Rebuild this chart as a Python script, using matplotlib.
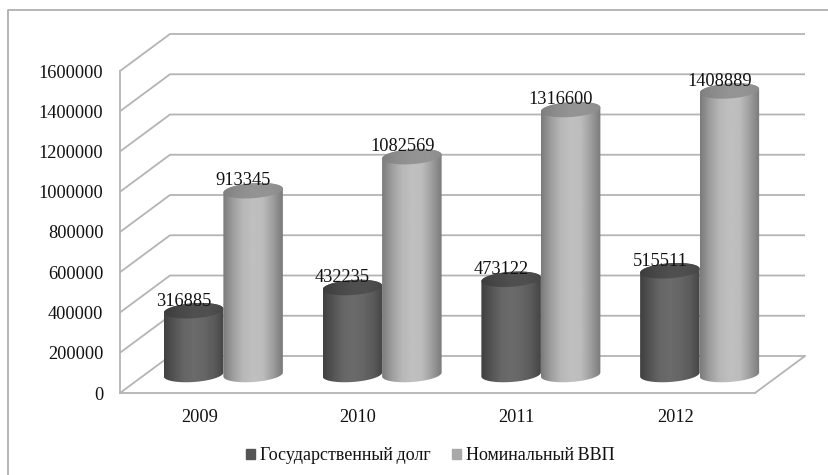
"""
Government debt vs nominal GDP, drawn as a 3D-look cylinder chart.
"""
import numpy as np
from matplotlib import pyplot as plt
from matplotlib.patches import Patch, PathPatch
from matplotlib.path import Path

years = ['2009', '2010', '2011', '2012']
debt = [316885, 432235, 473122, 515511]
gdp = [913345, 1082569, 1316600, 1408889]
y_ticks = list(range(0, 1600001, 200000))
series_names = ['Государственный\u2009долг', 'Номинальный\u2009ВВП']

plt.rcParams['font.family'] = ['Liberation Serif', 'DejaVu Serif']

GRID_COLOR = '#b4b4b4'
TEXT_COLOR = '#111111'
FIG_W, FIG_H = 829, 475
AX_LEFT, AX_RIGHT, AX_BOTTOM, AX_TOP = 120, 755, 393, 71

# sizes in pixels turned into data units
PX_X = 4 / (AX_RIGHT - AX_LEFT)
PX_Y = 1600000 / (AX_BOTTOM - AX_TOP)
DEPTH_X, DEPTH_Y = 50 * PX_X, 37 * PX_Y
BAR_W = 59.5 * PX_X
CAP_H = 7.5 * PX_Y
TILT = 2 * PX_Y


def ellipse_points(cx, cy, start, stop):
    """Points along a slightly tilted ellipse, angle in radians."""
    t = np.linspace(start, stop, 60)
    return np.column_stack([cx + BAR_W / 2 * np.cos(t),
                            cy + CAP_H * np.sin(t) + TILT * np.cos(t)])


def gradient_fill(ax, verts, stops, extent, zorder):
    """Fill a closed outline with a horizontal grey gradient."""
    outline = PathPatch(Path(verts), transform=ax.transData, fc='none', ec='none')
    ax.add_patch(outline)
    shade = np.interp(np.linspace(0, 1, 120), np.linspace(0, 1, len(stops)), stops)
    img = ax.imshow(shade[None, :], cmap='gray', vmin=0, vmax=1, aspect='auto',
                    extent=extent, zorder=zorder)
    # the last cylinder sticks out past the axes, so clip to the figure instead
    img.set_clip_box(ax.figure.bbox)
    img.set_clip_path(outline)


def draw_cylinder(ax, cx, base, value, stops, cap_stops, zorder):
    """Draw a shaded cylinder: body first, then the cap on top."""
    top = base + value
    lower = ellipse_points(cx, base, np.pi, 2 * np.pi)
    upper = ellipse_points(cx, top, 0, np.pi)
    left, right = cx - BAR_W / 2, cx + BAR_W / 2
    gradient_fill(ax, np.vstack([lower, upper, lower[:1]]), stops,
                  (left, right, base - 2 * CAP_H, top + 2 * CAP_H), zorder)
    gradient_fill(ax, ellipse_points(cx, top, 0, 2 * np.pi), cap_stops,
                  (left, right, top - 2 * CAP_H, top + 2 * CAP_H), zorder + 0.1)


fig = plt.figure(figsize=(FIG_W / 100, FIG_H / 100), dpi=100)
ax = fig.add_axes([AX_LEFT / FIG_W, 1 - AX_BOTTOM / FIG_H,
                   (AX_RIGHT - AX_LEFT) / FIG_W, (AX_BOTTOM - AX_TOP) / FIG_H])
ax.set_xlim(0, 4)
ax.set_ylim(0, 1600000)
ax.autoscale(False)
ax.patch.set_visible(False)

# walls and floor
for tick in y_ticks:
    ax.plot([0, DEPTH_X, 4 + DEPTH_X], [tick, tick + DEPTH_Y, tick + DEPTH_Y],
            color=GRID_COLOR, lw=1.3, clip_on=False, zorder=1, solid_capstyle='butt')
ax.plot([4, 4 + DEPTH_X], [0, DEPTH_Y], color=GRID_COLOR, lw=1.3, clip_on=False, zorder=1)

positions = np.arange(len(years)) + 0.5
ax.set_xticks(positions, years)
ax.set_yticks(y_ticks, [str(t) for t in y_ticks])
ax.tick_params(axis='both', length=0, labelsize=13.2, labelcolor=TEXT_COLOR)
ax.tick_params(axis='y', pad=12)
ax.tick_params(axis='x', pad=11.5)
for side in ['top', 'right']:
    ax.spines[side].set_visible(False)
for side in ['left', 'bottom']:
    ax.spines[side].set_color(GRID_COLOR)
    ax.spines[side].set_linewidth(1.3)

dark_stops = [0.25, 0.33, 0.40, 0.42, 0.40, 0.36, 0.27]
dark_cap = [0.24, 0.28, 0.31, 0.31, 0.28]
light_stops = [0.48, 0.62, 0.72, 0.75, 0.74, 0.62, 0.48]
light_cap = [0.50, 0.55, 0.58, 0.58, 0.55]
base = DEPTH_Y / 2
for i, (d, g) in enumerate(zip(debt, gdp)):
    cx = positions[i] + DEPTH_X / 2 - 1 * PX_X
    dark_x, light_x = cx - BAR_W / 2, cx + BAR_W / 2
    draw_cylinder(ax, dark_x, base, d, dark_stops, dark_cap, 3)
    draw_cylinder(ax, light_x, base, g, light_stops, light_cap, 4)
    for x, value in [(dark_x, d), (light_x, g)]:
        ax.annotate(str(value), (x, base + value), xytext=(-7, 7), textcoords='offset points',
                    ha='center', va='center', fontsize=13.2, color=TEXT_COLOR,
                    annotation_clip=False, zorder=6)

handles = [Patch(color='#555555'), Patch(color='#a8a8a8')]
fig.legend(handles, series_names, loc='center', bbox_to_anchor=(430.5 / FIG_W, 1 - 456 / FIG_H),
           ncol=2, frameon=False, fontsize=13, labelcolor=TEXT_COLOR, handlelength=0.45,
           handleheight=0.45, handletextpad=0.3, columnspacing=1.2)

# outer frame, only the left and top edges show in the picture
fig.add_artist(plt.Line2D([8.5 / FIG_W, 8.5 / FIG_W, 1], [0, 1 - 9.5 / FIG_H, 1 - 9.5 / FIG_H],
                          color='#b0b0b0', lw=1.3))

fig.savefig('out.png', dpi=100)
